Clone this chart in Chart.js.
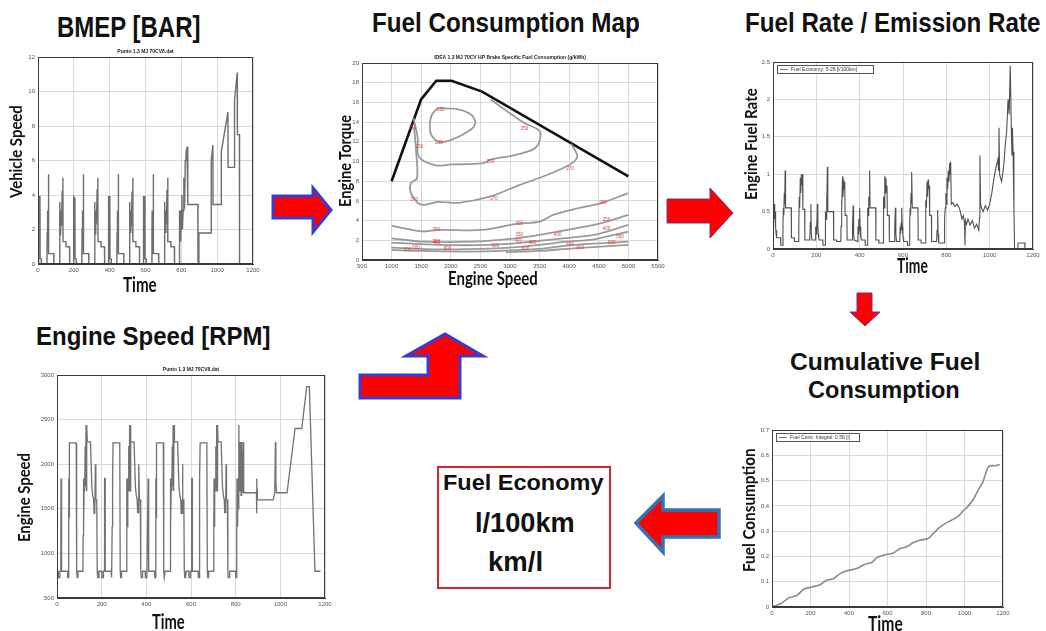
<!DOCTYPE html>
<html>
<head>
<meta charset="utf-8">
<script src="https://cdn.jsdelivr.net/npm/chart.js@4.4.0/dist/chart.umd.min.js"></script>
<style>
body { margin: 0; width: 1046px; height: 631px; background: #fff; position: relative; overflow: hidden; }
canvas { position: absolute; }
.t { position: absolute; white-space: nowrap; line-height: 1; font-weight: bold; color: #111; transform-origin: 0 0; }
.h { font-family: "Liberation Sans", Arial, sans-serif; }
.a { font-family: Lato, "Open Sans", sans-serif; }
#arrows { position: absolute; left: 0; top: 0; }
#econ { position: absolute; left: 437px; top: 466px; width: 170px; height: 119px; border: 2px solid #d9262b; }
</style>
</head>
<body>

<svg id="arrows" width="1046" height="631">
  <polygon points="273,196 313,196 313,188 331,210 313,232 313,218 273,218" fill="#ff0000" stroke="#3a3ad0" stroke-width="3" stroke-linejoin="miter"/>
  <polygon points="667,199 710,199 710,188 733,213 710,238 710,223 667,223" fill="#ff0000" stroke="#5b3a8e" stroke-width="1"/>
  <polygon points="857,293 872,293 872,312 880,312 865,326 850,312 857,312" fill="#ff0000" stroke="#6a2fa0" stroke-width="1"/>
  <polygon points="360,375 428,375 428,356 406,356 445,334 483,356 460,356 460,398 360,398" fill="#ff0000" stroke="#3a3ad0" stroke-width="3"/>
  <polygon points="636,523 663,496 663,510 719,510 719,537 663,537 663,552" fill="#ff0000" stroke="#2e75b6" stroke-width="3.5"/>
</svg>

<canvas id="bmepChart"></canvas>
<canvas id="mapChart"></canvas>
<canvas id="rateChart"></canvas>
<canvas id="rpmChart"></canvas>
<canvas id="cumChart"></canvas>

<div id="econ"></div>

<div class="t h" style="left:57px;top:13px;font-size:29px" data-w="143">BMEP [BAR]</div>
<div class="t h" style="left:372px;top:9px;font-size:28px" data-w="268">Fuel Consumption Map</div>
<div class="t h" style="left:745px;top:9px;font-size:28px" data-w="295">Fuel Rate / Emission Rate</div>
<div class="t h" style="left:36px;top:324px;font-size:25px" data-w="234">Engine Speed [RPM]</div>
<div class="t h" style="left:790px;top:350px;font-size:24px" data-w="190">Cumulative Fuel</div>
<div class="t h" style="left:808px;top:378px;font-size:24px" data-w="152">Consumption</div>
<div class="t h" style="left:443px;top:472px;font-size:22px" data-w="160">Fuel Economy</div>
<div class="t h" style="left:475px;top:509px;font-size:28px" data-w="100">l/100km</div>
<div class="t h" style="left:488px;top:548px;font-size:28px" data-w="55">km/l</div>

<div class="t a" style="left:123px;top:273px;font-size:21px" data-w="34">Time</div>
<div class="t a" style="left:448px;top:269px;font-size:18px" data-w="90">Engine Speed</div>
<div class="t a" style="left:897px;top:254px;font-size:21px" data-w="31">Time</div>
<div class="t a" style="left:152px;top:610px;font-size:21px" data-w="33">Time</div>
<div class="t a" style="left:868px;top:612px;font-size:21px" data-w="35">Time</div>

<div class="t a r" style="left:7px;top:198px;font-size:17.5px" data-w="93">Vehicle Speed</div>
<div class="t a r" style="left:336px;top:207px;font-size:17.5px" data-w="92">Engine Torque</div>
<div class="t a r" style="left:742px;top:200px;font-size:17.5px" data-w="112">Engine Fuel Rate</div>
<div class="t a r" style="left:15px;top:542px;font-size:17.5px" data-w="89">Engine Speed</div>
<div class="t a r" style="left:740px;top:572px;font-size:17.5px" data-w="124">Fuel Consumption</div>

<script>
// vehicle speed / bmep trace (4 urban cycles + extra-urban part)
const bmepTime = [
  0,3,4,11,12,18,19,50,51,52,53,54,55,57,58,60,88,89,120,121,122,123,125,127,129,131,135,139,140,156,157,176,177,
  195,198,199,206,207,213,214,245,246,247,248,249,250,252,253,255,283,284,315,316,317,318,320,322,324,326,330,334,335,351,352,371,372,
  390,393,394,401,402,408,409,440,441,442,443,444,445,447,448,450,478,479,510,511,512,513,515,517,519,521,525,529,530,546,547,566,567,
  585,588,589,596,597,603,604,635,636,637,638,639,640,642,643,645,673,674,705,706,707,708,710,712,714,716,720,724,725,741,742,761,762,
  780,788,789,791,793,795,797,800,803,806,810,814,818,822,826,832,836,892,893,897,898,966,967,976,977,1022,1023,1060,1061,1096,1097,1112,1113,1124,1125,1180
];
const bmepValue = [
  0,0,3.9,3.9,0.3,0.3,0,0,1.8,3.1,1.8,3.1,1.8,3.1,5.2,0.6,0.6,0,0,1.8,3.6,1.7,3.1,1.8,3.1,2.2,4.2,5.0,1.3,1.3,1.0,1.0,0,
  0,0,3.9,3.8,0.3,0.3,0,0,1.8,3.1,1.7,3.1,1.8,3.1,5.2,0.6,0.6,0,0,1.8,3.6,1.8,3.1,1.7,3.1,2.3,4.3,5.0,1.3,1.3,1.0,1.0,0,
  0,0,3.9,3.9,0.3,0.3,0,0,1.8,3.1,1.8,3.0,1.8,3.1,5.2,0.6,0.6,0,0,1.7,3.6,1.8,3.1,1.8,3.0,2.2,4.2,5.0,1.3,1.3,1.0,1.0,0,
  0,0,3.9,3.9,0.3,0.3,0,0,1.8,3.1,1.8,3.1,1.7,3.1,5.2,0.6,0.6,0,0,1.8,3.6,1.7,3.1,1.8,3.1,2.3,4.3,5.0,1.3,1.3,1.0,1.0,0,
  0,0,1.8,3.1,1.8,3.1,1.3,3.1,4.0,2.0,3.1,5.0,3.2,6.0,6.4,6.8,3.45,3.45,0,0,1.8,1.8,6.0,6.9,3.45,3.45,6.5,8.8,5.6,5.6,9.5,11.1,7.5,7.5,0,0
];

// engine speed [rpm]
const rpmTime = [
  0,5,6,12,13,17,18,20,21,47,48,51,52,53,54,55,56,86,88,90,93,94,116,117,118,120,122,124,126,128,130,132,134,136,150,156,160,164,166,168,170,172,174,178,180,182,186,188,
  195,200,201,207,208,212,213,215,216,242,243,246,247,248,249,250,251,281,283,285,288,289,311,312,313,315,317,319,321,323,325,327,329,331,345,351,355,359,361,363,365,367,369,373,375,377,381,383,
  390,395,396,402,403,407,408,410,411,437,438,441,442,443,444,445,446,476,478,480,483,484,506,507,508,510,512,514,516,518,520,522,524,526,540,546,550,554,556,558,560,562,564,568,570,572,576,578,
  585,590,591,597,598,602,603,605,606,632,633,636,637,638,639,640,641,671,673,675,678,679,701,702,703,705,707,709,711,713,715,717,719,721,735,741,745,749,751,753,755,757,759,763,765,767,771,773,
  780,800,801,804,805,806,808,810,812,814,816,818,820,822,824,826,828,830,832,834,836,840,893,894,895,896,897,898,968,975,978,980,983,1030,1066,1096,1118,1130,1155,1180
];
const rpmValue = [
  800,800,730,730,800,800,1840,1840,800,800,730,730,1300,1840,1400,1840,2240,2240,800,730,730,800,800,1200,1840,1300,1840,1700,2200,1750,2440,1700,2440,2250,2250,1750,1650,1600,1450,1600,1450,2000,1600,1600,800,730,730,800,
  800,800,730,730,800,800,1840,1840,800,800,730,730,1300,1840,1400,1840,2240,2240,800,730,730,800,800,1200,1840,1300,1840,1700,2200,1750,2440,1700,2440,2250,2250,1750,1650,1600,1450,1600,1450,2000,1600,1600,800,730,730,800,
  800,800,730,730,800,800,1840,1840,800,800,730,730,1300,1840,1400,1840,2240,2240,800,730,730,800,800,1200,1840,1300,1840,1700,2200,1750,2440,1700,2440,2250,2250,1750,1650,1600,1450,1600,1450,2000,1600,1600,800,730,730,800,
  800,800,730,730,800,800,1840,1840,800,800,730,730,1300,1840,1400,1840,2240,2240,800,730,730,800,800,1200,1840,1300,1840,1700,2200,1750,2440,1700,2440,2250,2250,1750,1650,1600,1450,1600,1450,2000,1600,1600,800,730,730,800,
  800,800,730,730,1200,1840,1300,1840,1500,2440,1700,2250,1700,2250,1650,2250,1680,2150,1680,2250,1680,1680,1680,1450,1840,1600,1720,1600,1600,1680,2250,1800,1680,1680,2400,2400,2870,2870,800,800
];

// engine fuel rate
const rateTime = [
  0,2,4,6,8,10,12,14,16,18,35,36,45,46,48,50,52,54,56,58,84,85,98,99,118,119,121,123,126,128,131,133,136,138,146,147,170,172,175,177,180,
  195,197,199,201,203,205,207,209,211,213,230,231,240,241,243,245,247,249,251,253,279,280,293,294,313,314,316,318,321,323,326,328,331,333,341,342,365,367,370,372,375,
  390,392,394,396,398,400,402,404,406,408,425,426,435,436,438,440,442,444,446,448,474,475,488,489,508,509,511,513,516,518,521,523,526,528,536,537,560,562,565,567,570,
  585,587,589,591,593,595,597,599,601,603,620,621,630,631,633,635,637,639,641,643,669,670,683,684,703,704,706,708,711,713,716,718,721,723,731,732,755,757,760,762,765,
  780,790,792,795,798,800,803,806,809,812,815,818,820,823,830,840,850,860,866,872,878,884,886,888,893,900,910,920,930,940,
  950,953,955,958,962,970,980,990,1000,1010,1020,1030,1038,1041,1043,1046,1050,1055,1060,1066,1072,1078,1085,1090,1095,1100,1103,1105,1108,1112,
  1115,1130,1131,1162,1163,1180
];
const rateValue = [
  0.30,0.55,0.35,0.60,0.40,0.50,0.30,0.20,0.25,0.15,0.15,0.05,0.05,0.35,0.55,0.45,0.75,0.60,1.05,0.55,0.55,0.15,0.15,0.10,0.10,0.30,0.70,0.55,0.95,0.75,1.00,0.85,1.00,0.53,0.53,0.12,0.12,0.35,0.60,0.20,0.12,
  0.12,0.30,0.20,0.35,0.25,0.60,0.30,0.20,0.15,0.12,0.12,0.05,0.05,0.30,0.50,0.40,0.70,0.55,1.10,0.50,0.50,0.12,0.12,0.10,0.10,0.30,0.65,0.55,0.97,0.70,0.93,0.80,0.90,0.45,0.45,0.12,0.12,0.30,0.58,0.20,0.12,
  0.10,0.30,0.20,0.40,0.25,0.55,0.30,0.15,0.20,0.12,0.12,0.05,0.05,0.35,0.55,0.45,0.70,0.60,1.05,0.55,0.55,0.12,0.12,0.08,0.08,0.30,0.70,0.55,0.98,0.75,0.95,0.80,0.85,0.45,0.45,0.10,0.10,0.30,0.55,0.20,0.10,
  0.10,0.30,0.20,0.35,0.25,0.55,0.30,0.20,0.15,0.10,0.10,0.05,0.05,0.35,0.55,0.45,0.75,0.60,1.03,0.55,0.55,0.12,0.12,0.08,0.08,0.30,0.65,0.55,0.90,0.70,0.93,0.80,0.85,0.45,0.45,0.10,0.10,0.25,0.52,0.20,0.08,
  0.08,0.08,0.40,0.55,0.75,0.60,0.95,0.80,1.05,0.90,1.15,1.00,1.17,0.60,0.62,0.57,0.60,0.55,0.48,0.40,0.45,0.35,0.05,0.38,0.33,0.40,0.32,0.38,0.28,0.33,
  0.25,0.42,1.25,0.60,0.55,0.50,0.58,0.52,0.60,0.75,0.95,1.10,1.20,1.05,1.62,1.00,0.95,0.90,1.00,1.15,1.40,1.55,2.00,1.80,2.45,1.60,1.25,1.62,1.30,0.50,
  0.00,0.00,0.08,0.08,0.00,0.00
];

// cumulative fuel consumption
const cumTime = [0,52,86,130,164,207,250,285,319,354,388,440,483,518,544,578,630,665,699,734,768,811,837,863,898,932,967,993,1019,1045,1071,1096,1110,1127,1165,1183];
const cumValue = [0,0.016,0.036,0.046,0.07,0.079,0.088,0.106,0.112,0.132,0.143,0.152,0.169,0.176,0.195,0.205,0.214,0.231,0.238,0.255,0.264,0.271,0.29,0.31,0.33,0.343,0.359,0.38,0.399,0.425,0.462,0.495,0.528,0.557,0.559,0.564];

// fuel map: full load curve and bsfc iso-lines
const wotSpeed = [1000,1498,1755,2013,2528,5000];
const wotTorque = [8.0,16.3,18.2,18.2,17.1,8.5];
const contourSpeed = [
  [1773,1670,1658,1784,2013,2328,2413,2356,2127,1773],
  [1372,1441,1458,1744,2013,2528,2671,3043,3386,3489,3500,3243,2671],
  [1380,1412,1430,1326,1326,1441,1555,1784,2127,2642,3157,3615,4014,4128,4128,4030],
  [1000,1530,1784,2528,3100,3500,3730,4071,4528,5000],
  [1000,1530,2356,3100,3500,3958,4528,5000],
  [1000,1784,2642,3214,3730,4415,5000],
  [1000,1784,2642,3214,3958,4415,5000],
  [1000,1498,2356,2928,3500,4071,5000],
  [2928,3500,4071,5000]
];
const contourTorque = [
  [15.4,14.6,12.9,12.0,12.2,13.2,13.9,14.7,15.3,15.4],
  [14.4,12.4,10.5,9.6,9.7,9.8,10.2,10.6,11.2,11.9,13.1,13.9,16.3],
  [13.5,11.2,8.3,7.8,6.8,5.8,5.6,5.9,5.8,6.4,7.6,8.6,9.7,10.3,10.8,11.8],
  [3.46,2.9,3.05,3.05,3.66,3.9,4.58,5.15,5.76,6.78],
  [2.2,1.86,1.86,2.2,2.54,3.05,3.73,4.58],
  [1.76,1.53,1.53,1.76,2.1,2.54,3.56],
  [1.25,1.08,1.15,1.36,1.86,2.1,2.88],
  [1.02,0.92,0.85,0.95,1.12,1.53,1.86],
  [0.78,0.92,1.19,1.53]
];
const mapLabelSpeed = [1830,1800,1355,1470,2670,3243,1384,2730,4014,1755,3157,4571,1755,3157,4628,1760,3140,3375,3805,4628,4857,1269,1412,1944,2750,3260,4014,4185,4720];
const mapLabelTorque = [15.3,11.9,13.4,11.5,10.0,13.3,6.1,6.2,9.3,3.05,3.7,5.8,1.9,2.6,4.1,1.7,2.0,1.7,2.6,3.15,2.4,1.08,1.2,1.1,1.45,1.1,1.5,1.2,1.75];
const mapLabelText = ['235','235','250','250','250','250','270','270','270','300','300','300','350','350','350','400','400','400','400','400','500','500','600','600','600','600','600','600','600'];

function pts(xs, ys) {
  return xs.map(function (x, i) { return { x: x, y: ys[i] }; });
}

// draws the box round the plot, the small title, an inside legend and map labels
const framePlugin = {
  id: 'frame',
  afterDatasetsDraw(chart, args, opts) {
    const a = chart.chartArea, c = chart.ctx;
    c.save();
    if (opts.labels) {
      c.font = '4.5px "Liberation Sans"';
      c.fillStyle = '#e53b3b';
      c.textAlign = 'center';
      c.textBaseline = 'middle';
      opts.labels.text.forEach(function (t, i) {
        c.fillText(t, chart.scales.x.getPixelForValue(opts.labels.x[i]), chart.scales.y.getPixelForValue(opts.labels.y[i]));
      });
    }
    c.strokeStyle = '#3a3a3a';
    c.lineWidth = 1;
    c.strokeRect(a.left + 0.5, a.top + 0.5, a.right - a.left - 1, a.bottom - a.top - 1);
    if (opts.title) {
      c.font = 'bold 5px "Liberation Sans"';
      c.fillStyle = '#222';
      c.textAlign = 'center';
      c.textBaseline = 'bottom';
      c.fillText(opts.title, (a.left + a.right) / 2, a.top - 3);
    }
    if (opts.legend) {
      const lx = a.left + 4, ly = a.top + 3, lw = opts.legend.w, lh = 8;
      c.fillStyle = '#fff';
      c.fillRect(lx, ly, lw, lh);
      c.strokeStyle = '#555';
      c.strokeRect(lx + 0.5, ly + 0.5, lw, lh);
      c.strokeStyle = '#777';
      c.beginPath(); c.moveTo(lx + 3, ly + 4.5); c.lineTo(lx + 11, ly + 4.5); c.stroke();
      c.font = '5px "Liberation Sans"';
      c.fillStyle = '#333';
      c.textAlign = 'left';
      c.textBaseline = 'middle';
      c.fillText(opts.legend.text, lx + 14, ly + 4.5);
    }
    c.restore();
  }
};

function plainTick(v) {
  return String(Math.round(v * 10) / 10);
}

function makePlot(id, box, cfg) {
  const padL = 22, padT = 14, padR = 12, padB = 12;
  const cv = document.getElementById(id);
  cv.width = box.r - box.l + padL + padR;
  cv.height = box.b - box.t + padT + padB;
  cv.style.left = (box.l - padL) + 'px';
  cv.style.top = (box.t - padT) + 'px';
  const tick = { font: { size: 6, family: 'Liberation Sans' }, color: '#555', autoSkip: false, maxRotation: 0, callback: plainTick };
  return new Chart(cv, {
    type: 'scatter',
    data: { datasets: cfg.datasets },
    options: {
      responsive: false,
      animation: false,
      layout: { padding: { top: padT, right: padR, left: 0, bottom: 0 } },
      elements: { point: { radius: 0 } },
      plugins: {
        legend: { display: false },
        tooltip: { enabled: false },
        frame: { title: cfg.title, legend: cfg.legend, labels: cfg.labels }
      },
      scales: {
        x: {
          type: 'linear', min: cfg.x[0], max: cfg.x[1],
          afterFit: function (s) { s.height = padB; },
          ticks: Object.assign({ stepSize: cfg.x[2], padding: 3 }, tick),
          grid: { color: '#d9d9d9', drawTicks: false },
          border: { color: '#3a3a3a' }
        },
        y: {
          type: 'linear', min: cfg.y[0], max: cfg.y[1],
          afterFit: function (s) { s.width = padL; },
          ticks: Object.assign({ stepSize: cfg.y[2], padding: 3 }, tick),
          grid: { color: '#d9d9d9', drawTicks: false },
          border: { color: '#3a3a3a' }
        }
      }
    },
    plugins: [framePlugin]
  });
}

function line(xs, ys, color, width, tension) {
  return { data: pts(xs, ys), showLine: true, borderColor: color, borderWidth: width, pointRadius: 0, tension: tension || 0 };
}

makePlot('bmepChart', { l: 38, t: 57, r: 253, b: 264 }, {
  x: [0, 1200, 200], y: [0, 12, 2],
  title: 'Punto 1.3 MJ 70CV8.dat',
  datasets: [line(bmepTime, bmepValue, '#6e6e6e', 1.4)]
});

const mapSets = contourSpeed.map(function (s, i) { return line(s, contourTorque[i], '#9a9a9a', 1.8, 0.3); });
mapSets.push(line(wotSpeed, wotTorque, '#111', 2.6));
makePlot('mapChart', { l: 362, t: 63, r: 658, b: 260 }, {
  x: [500, 5500, 500], y: [0, 20, 2],
  title: 'IDEA 1.3 MJ 70CV HP Brake Specific Fuel Consumption (g/kWh)',
  labels: { x: mapLabelSpeed, y: mapLabelTorque, text: mapLabelText },
  datasets: mapSets
});

makePlot('rateChart', { l: 773, t: 62, r: 1033, b: 249 }, {
  x: [0, 1200, 200], y: [0, 2.5, 0.5],
  legend: { text: 'Fuel Economy: 5.28 [l/100km]', w: 96 },
  datasets: [line(rateTime, rateValue, '#505050', 1.1)]
});

makePlot('rpmChart', { l: 57, t: 375, r: 325, b: 598 }, {
  x: [0, 1200, 200], y: [500, 3000, 500],
  title: 'Punto 1.3 MJ 70CV8.dat',
  datasets: [line(rpmTime, rpmValue, '#727272', 1.3)]
});

makePlot('cumChart', { l: 772, t: 430, r: 1003, b: 607 }, {
  x: [0, 1200, 200], y: [0, 0.7, 0.1],
  legend: { text: 'Fuel Cons. Integral: 0.56 [l]', w: 83 },
  datasets: [line(cumTime, cumValue, '#8a8a8a', 1.6, 0.3)]
});

// squeeze the big labels into the widths they take in the picture
document.querySelectorAll('.t').forEach(function (el) {
  const s = el.dataset.w / el.offsetWidth;
  el.style.transform = (el.classList.contains('r') ? 'rotate(-90deg) ' : '') + 'scaleX(' + s.toFixed(3) + ')';
});
</script>
</body>
</html>
